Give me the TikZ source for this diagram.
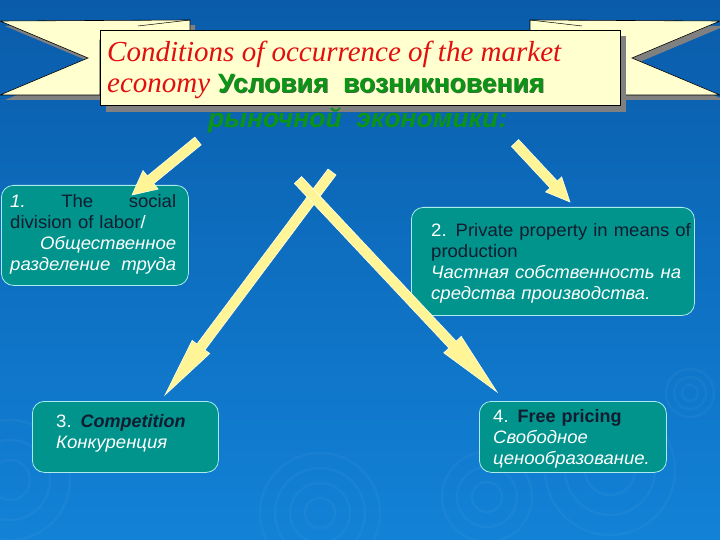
\documentclass[tikz,border=0pt]{standalone}
\usepackage{fontspec}
\setmainfont{Liberation Sans}
\newfontfamily\serifit{Liberation Serif}
\newfontfamily\boxfont[FakeStretch=1.03]{Liberation Sans}
\usetikzlibrary{calc}
\definecolor{bgtop}{RGB}{10,92,170}
\definecolor{bgbot}{RGB}{18,130,215}
\definecolor{bannerfill}{RGB}{255,255,208}
\definecolor{shadowgray}{RGB}{128,128,128}
\definecolor{titlered}{RGB}{225,15,15}
\definecolor{titlegreen}{RGB}{10,150,20}
\definecolor{titleshadow}{RGB}{60,110,60}
\definecolor{tealfill}{RGB}{0,148,140}
\definecolor{boxline}{RGB}{170,235,235}
\definecolor{darktext}{RGB}{18,28,48}
\definecolor{arrowyellow}{RGB}{255,245,150}
\definecolor{arrowedge}{RGB}{255,255,225}
\tikzset{
  boxstyle/.style={draw=boxline, line width=0.8pt, fill=tealfill, rounded corners=12pt, inner sep=0pt},
  boxtext/.style={anchor=north west, inner sep=0pt, align=left, text=darktext,
    font=\boxfont\fontsize{18}{21}\selectfont},
  arrowstyle/.style={fill=arrowyellow, draw=arrowedge, line width=0.6pt, line join=miter},
  ribbon/.style={fill=bannerfill, draw=black, line width=0.6pt},
  ribbonshadow/.style={fill=shadowgray},
  ripple/.style={draw=white, opacity=0.035, line width=2.5pt},
  titlered/.style={anchor=base west, inner sep=0pt, text=titlered, font=\serifit\itshape\fontsize{29}{31}\selectfont},
}
\newcommand\blockarrow[5]{%
  \coordinate (hb) at ($(#2)!#5!(#1)$);
  \filldraw[arrowstyle] ($(#1)!#3!90:(#2)$) -- ($(hb)!#3!90:(#2)$) -- ($(hb)!#4!90:(#2)$) -- (#2)
    -- ($(hb)!#4!-90:(#2)$) -- ($(hb)!#3!-90:(#2)$) -- ($(#1)!#3!-90:(#2)$) -- cycle;
}
\newcommand\wt[1]{{\color{white}#1}}
\begin{document}
\begin{tikzpicture}[x=1pt,y=-1pt]
\useasboundingbox (0,0) rectangle (720,540);
\shade[top color=bgtop, bottom color=bgbot] (0,0) rectangle (720,540);
% ripples
\foreach \cx/\cy/\r in {690/393/8,690/393/16,690/393/24,
  610/470/25,610/470/45,610/470/65,
  487/497/15,487/497/30,487/497/45,
  320/513/15,320/513/30,320/513/45,320/513/60,
  10/480/20,10/480/40,10/480/60}
  \draw[ripple] (\cx,\cy) circle[radius=\r pt];
% ribbon tails
\begin{scope}
\clip (0,0) rectangle (720,540);
\fill[ribbonshadow, shift={(5,5)}] (0,21) -- (190,20) -- (190,40) -- (100,40) -- (100,95) -- (0,95) -- (88,58) -- cycle;
\fill[ribbonshadow, shift={(5,5)}] (720,21) -- (530,20) -- (530,40) -- (620,40) -- (620,95) -- (720,95) -- (632,58) -- cycle;
\filldraw[ribbon] (0,21) -- (190,20) -- (190,40) -- (100,40) -- (100,95) -- (0,95) -- (88,58) -- cycle;
\filldraw[ribbon] (720,21) -- (530,20) -- (530,40) -- (620,40) -- (620,95) -- (720,95) -- (632,58) -- cycle;
\draw[black, line width=0.5pt] (138,26) -- (190,20);
\draw[black, line width=0.5pt] (582,26) -- (530,20);
\end{scope}
% main banner
\fill[ribbonshadow] (106,36) rectangle (626,112);
\node[ribbon, minimum width=520pt, minimum height=75pt, anchor=north west, inner sep=0pt] (banner) at (100,30) {};
% title
\node[titlered] (title1) at (107,62) {Conditions of occurrence of the market};
\node[titlered] (title2) at (107,93) {economy};
\node[anchor=base west, inner sep=0pt, text=titleshadow, font=\bfseries\fontsize{26.5}{31}\selectfont] (title2s) at (219,94) {Условия\ \ возникновения};
\node[anchor=base west, inner sep=0pt, text=titlegreen, font=\bfseries\fontsize{26.5}{31}\selectfont] (title2g) at (218,93) {Условия\ \ возникновения};
\node[anchor=base west, inner sep=0pt, text=titlegreen, font=\bfseries\itshape\fontsize{26.5}{31}\selectfont] (title3) at (208,128) {рыночной\ \ экономики:};
% boxes
\node[boxstyle, minimum width=187pt, minimum height=100pt, anchor=north west] (box1) at (1,185) {};
\node[boxstyle, minimum width=283pt, minimum height=108pt, anchor=north west] (box2) at (411,207) {};
\node[boxstyle, minimum width=186pt, minimum height=71pt, anchor=north west] (box3) at (32,401) {};
\node[boxstyle, minimum width=187pt, minimum height=71pt, anchor=north west] (box4) at (479,401) {};
\node[boxtext, text width=166pt] (text1) at (10,192.3) {\strut\wt{\itshape 1.}\hfill The\hfill social\\
division of labor\wt{/}\\
\hfill\wt{\itshape Общественное}\\
\wt{\itshape разделение\hfill труда}};
\node[boxtext, text width=270pt] (text2) at (431,221.3) {\strut\wt{2.} Private property in means of\\
production\\
\wt{\itshape Частная собственность на}\\
\wt{\itshape средства производства.}};
\node[boxtext, text width=160pt] (text3) at (56,412.3) {\strut\wt{3.} {\normalfont\fontsize{18}{21}\selectfont\bfseries\itshape Competition}\\
\wt{\itshape Конкуренция}};
\node[boxtext, text width=170pt] (text4) at (493,407.3) {\strut\wt{4.} {\normalfont\fontsize{18}{21}\selectfont\bfseries Free pricing}\\
\wt{\itshape Свободное}\\
\wt{\itshape ценообразование.}};
% arrows
\coordinate (a1s) at (198,141);
\coordinate (a1e) at (132,195);
\coordinate (a2s) at (515,143);
\coordinate (a2e) at (570,202);
\coordinate (a3s) at (332,172);
\coordinate (a3e) at (165,395);
\coordinate (a4s) at (298,180);
\coordinate (a4e) at (497,392);
\blockarrow{a1s}{a1e}{5pt}{12pt}{24pt}
\blockarrow{a2s}{a2e}{5pt}{11pt}{24pt}
\blockarrow{a3s}{a3e}{5pt}{11pt}{60pt}
\blockarrow{a4s}{a4e}{5pt}{12pt}{65pt}
\end{tikzpicture}
\end{document}
